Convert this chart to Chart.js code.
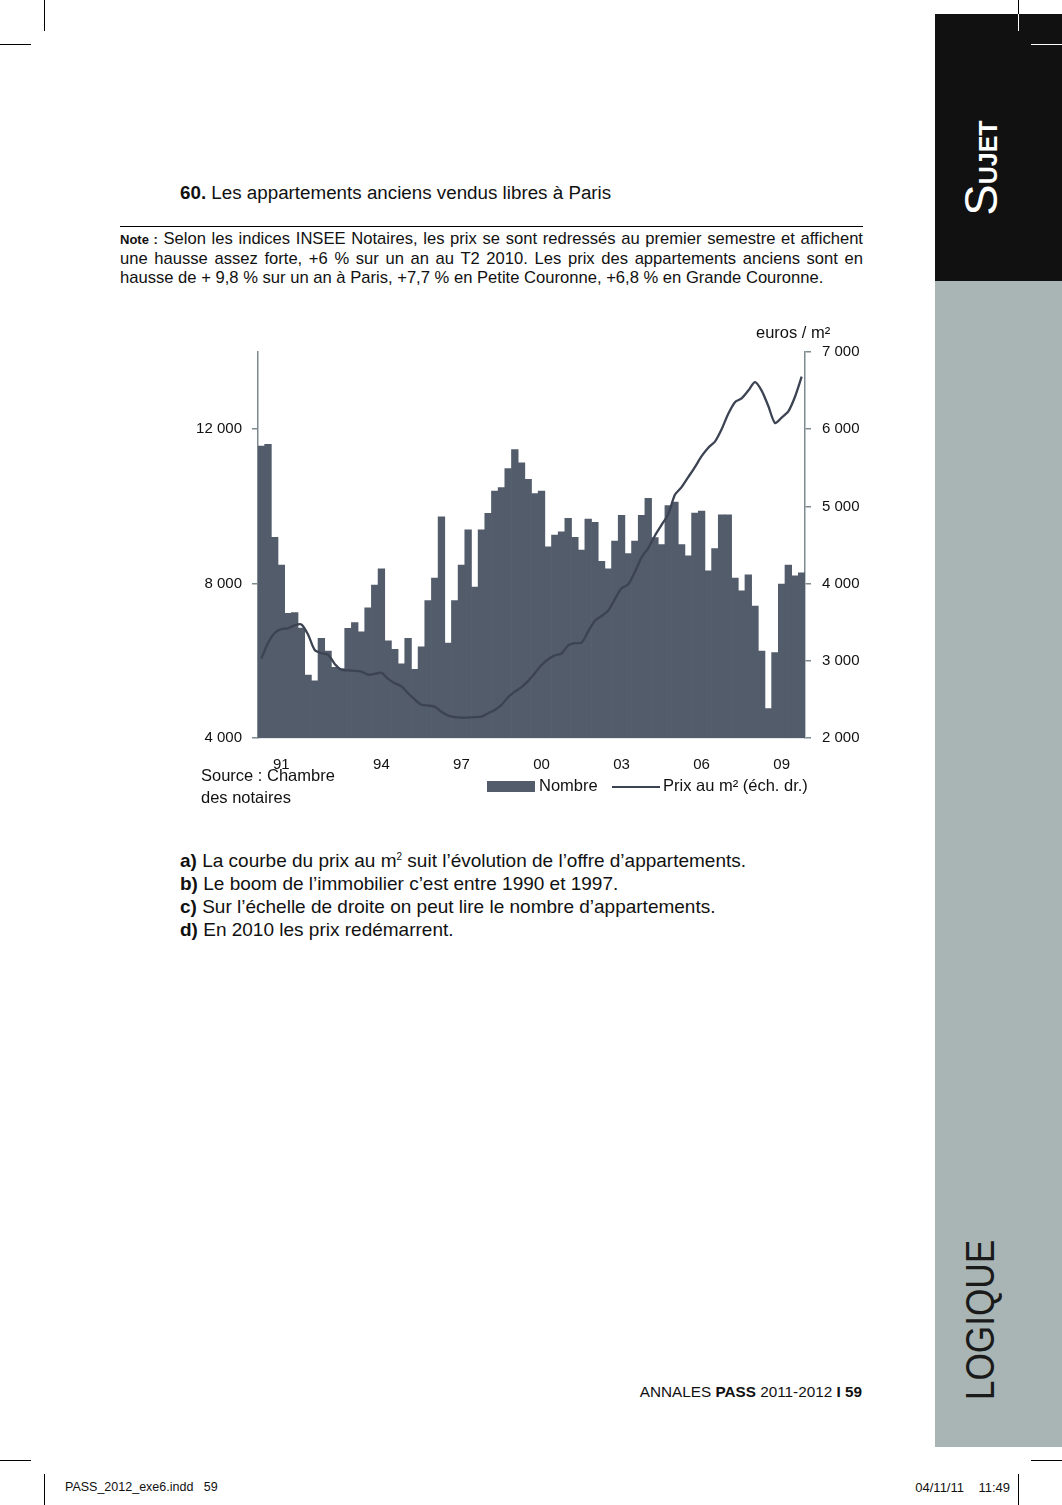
<!DOCTYPE html>
<html lang="fr">
<head>
<meta charset="utf-8">
<title>Les appartements anciens vendus libres à Paris</title>
<script src="https://cdn.jsdelivr.net/npm/chart.js@4.4.1/dist/chart.umd.min.js"></script>
<style>
  html, body { margin: 0; padding: 0; background: #fff; }
  body { width: 1062px; height: 1505px; position: relative; overflow: hidden;
         font-family: "Liberation Sans", Arial, Helvetica, sans-serif; color: #111; }
  .abs { position: absolute; white-space: nowrap; }
  .mark { position: absolute; background: #000; }
  .note { position: absolute; left: 120px; top: 229px; width: 743px; font-size: 16.6px; }
  .note div { height: 19.6px; line-height: 19.6px; white-space: nowrap; }
  .note .j { text-align: justify; text-align-last: justify; }
  .quest { position: absolute; left: 180px; top: 849px; font-size: 19px; }
  .quest div { height: 23px; line-height: 23px; white-space: nowrap; }
  .exp { font-size: 10px; position: relative; top: -7px; line-height: 0; }
  .chartfont { font-size: 16.5px; color: #111; }
</style>
</head>
<body>

<!-- traits de coupe -->
<div class="mark" style="left:44px;top:0;width:1px;height:31px"></div>
<div class="mark" style="left:0;top:44px;width:31px;height:1px"></div>
<div class="mark" style="left:0;top:1460px;width:31px;height:1px"></div>
<div class="mark" style="left:44px;top:1474px;width:1px;height:31px"></div>
<div class="mark" style="left:1031px;top:1460px;width:31px;height:1px"></div>
<div class="mark" style="left:1018px;top:1474px;width:1px;height:31px"></div>

<!-- bandeau droit -->
<div style="position:absolute;left:935px;top:281px;width:127px;height:1166px;background:#a9b5b4"></div>
<div style="position:absolute;left:935px;top:14px;width:127px;height:267px;background:#111"></div>
<div class="mark" style="left:1018px;top:0;width:1px;height:14px"></div>
<div class="mark" style="left:1018px;top:14px;width:1px;height:17px;background:#fff"></div>
<div class="mark" style="left:1031px;top:44px;width:31px;height:1px;background:#fff"></div>

<div class="abs" style="left:980px;top:168px;transform:translate(-50%,-50%) rotate(-90deg);color:#fff;line-height:1">
  <span style="font-size:47px">S</span><span style="font-size:25px;font-weight:bold">UJET</span>
</div>
<div class="abs" style="left:980px;top:1320px;transform:translate(-50%,-50%) rotate(-90deg) scaleX(0.88);color:#1a1a1a;font-size:40px;line-height:1">LOGIQUE</div>

<!-- titre et note -->
<div class="abs" style="left:180px;top:182px;font-size:18.8px;line-height:22px"><b>60.</b> Les appartements anciens vendus libres à Paris</div>
<div class="mark" style="left:120px;top:226px;width:743px;height:1px"></div>
<div class="note">
  <div class="j"><b style="font-size:13px">Note :</b> Selon les indices INSEE Notaires, les prix se sont redressés au premier semestre et affichent</div>
  <div class="j">une hausse assez forte, +6 % sur un an au T2 2010. Les prix des appartements anciens sont en</div>
  <div>hausse de + 9,8 % sur un an à Paris, +7,7 % en Petite Couronne, +6,8 % en Grande Couronne.</div>
</div>

<!-- graphique -->
<div style="position:absolute;left:180px;top:330px;width:690px;height:460px">
  <canvas id="graph"></canvas>
</div>
<div class="abs chartfont" style="left:756px;top:323px">euros / m²</div>
<div class="abs chartfont" style="left:201px;top:764px;line-height:22px">Source : Chambre<br>des notaires</div>
<div style="position:absolute;left:487px;top:781px;width:48px;height:11px;background:#535c6b"></div>
<div class="abs chartfont" style="left:539px;top:776px">Nombre</div>
<div style="position:absolute;left:612px;top:786px;width:48px;height:2px;background:#3c4352"></div>
<div class="abs chartfont" style="left:663px;top:776px">Prix au m² (éch. dr.)</div>

<!-- questions -->
<div class="quest">
  <div><b>a)</b> La courbe du prix au m<span class="exp">2</span> suit l’évolution de l’offre d’appartements.</div>
  <div><b>b)</b> Le boom de l’immobilier c’est entre 1990 et 1997.</div>
  <div><b>c)</b> Sur l’échelle de droite on peut lire le nombre d’appartements.</div>
  <div><b>d)</b> En 2010 les prix redémarrent.</div>
</div>

<!-- pied de page -->
<div class="abs" style="right:200px;top:1383px;font-size:15.3px">ANNALES <b>PASS</b> 2011-2012 <b>I 59</b></div>
<div class="abs" style="left:65px;top:1480px;font-size:12.5px">PASS_2012_exe6.indd&nbsp;&nbsp;&nbsp;59</div>
<div class="abs" style="right:52px;top:1480px;font-size:13px">04/11/11&nbsp;&nbsp;&nbsp;&nbsp;11:49</div>

<script>
// trimestres 1990 T1 -> 2010 T2
const years = [1990, 1991, 1992, 1993, 1994, 1995, 1996, 1997, 1998, 1999, 2000,
               2001, 2002, 2003, 2004, 2005, 2006, 2007, 2008, 2009, 2010];
const quarters = [];
years.forEach(y => { [1, 2, 3, 4].forEach(q => quarters.push(y + 'T' + q)); });
quarters.splice(82);

// nombre de ventes (échelle de gauche)
const nombre = [
  11560, 11610, 9200, 8480, 7230, 7250, 6850, 5630, 5480, 6580,
  6250, 5830, 5800, 6840, 6990, 6750, 7370, 7960, 8380, 6520,
  6300, 5920, 6580, 5780, 6360, 7560, 8140, 9730, 6460, 7560,
  8480, 9390, 7910, 9390, 9820, 10400, 10490, 10980, 11470, 11130,
  10700, 10330, 10400, 8950, 9260, 9340, 9690, 9200, 8870, 9670,
  9590, 8580, 8380, 9100, 9770, 8780, 9100, 9770, 10210, 9190,
  9010, 10020, 10110, 9010, 8720, 9830, 9880, 8330, 8910, 9780,
  9780, 8140, 7810, 8230, 7420, 6250, 4760, 6210, 7990, 8480,
  8200, 8280
];

// prix au m2 en euros (échelle de droite)
const prixM2 = [
  3030, 3230, 3360, 3410, 3420, 3460, 3470, 3340, 3140, 3100,
  3080, 2960, 2885, 2875, 2870, 2860, 2820, 2830, 2846, 2765,
  2710, 2670, 2580, 2500, 2430, 2420, 2405, 2340, 2290, 2270,
  2263, 2265, 2270, 2276, 2320, 2363, 2430, 2530, 2600, 2660,
  2740, 2840, 2945, 3020, 3070, 3095, 3200, 3228, 3234, 3380,
  3520, 3580, 3650, 3800, 3940, 3990, 4150, 4340, 4460, 4620,
  4760, 4900, 5150, 5250, 5380, 5510, 5650, 5760, 5840, 6000,
  6200, 6350, 6400, 6500, 6610, 6500, 6300, 6080, 6150, 6230,
  6420, 6680
];

const leftTicks = [4000, 8000, 12000];
const rightTicks = [2000, 3000, 4000, 5000, 6000, 7000];
const xTickQuarters = ['1990T4', '1994T3', '1997T3', '2000T3', '2003T3', '2006T3', '2009T3'];
const xTickLabels = ['91', '94', '97', '00', '03', '06', '09'];

const barColor = '#535c6b';
const lineColor = '#3c4352';
const axisColor = '#7d8a90';
const font = { family: '"Liberation Sans", Arial, sans-serif', size: 15 };

const milliers = v => String(v).replace(/\B(?=(\d{3})+$)/g, ' ');

const data = {
  labels: quarters,
  datasets: [
    {
      type: 'line',
      label: 'Prix au m² (éch. dr.)',
      data: prixM2,
      yAxisID: 'yPrix',
      borderColor: lineColor,
      borderWidth: 2.3,
      pointRadius: 0,
      tension: 0.25,
      order: 0
    },
    {
      type: 'bar',
      label: 'Nombre',
      data: nombre,
      yAxisID: 'yNombre',
      backgroundColor: barColor,
      borderWidth: 0,
      barPercentage: 1.0,
      categoryPercentage: 1.0,
      order: 1
    }
  ]
};

const config = {
  type: 'bar',
  data: data,
  options: {
    responsive: true,
    maintainAspectRatio: false,
    animation: false,
    layout: { padding: { top: 22, left: 0, right: 0, bottom: 0 } },
    plugins: { legend: { display: false }, tooltip: { enabled: false } },
    scales: {
      x: {
        grid: { display: false, drawTicks: false },
        border: { display: true, color: '#c9d0d3', width: 1.5 },
        afterFit: s => { s.height = 52; },
        ticks: {
          autoSkip: false,
          maxRotation: 0,
          padding: 18,
          color: '#111',
          font: font,
          callback: (v, i) => {
            const k = xTickQuarters.indexOf(quarters[i]);
            return k >= 0 ? xTickLabels[k] : '';
          }
        }
      },
      yNombre: {
        position: 'left',
        min: 4000,
        max: 14000,
        afterBuildTicks: s => { s.ticks = leftTicks.map(v => ({ value: v })); },
        afterFit: s => { s.width = 78; },
        grid: { drawOnChartArea: false, drawTicks: true, tickLength: 6, color: axisColor, lineWidth: 1.5 },
        border: { color: axisColor, width: 1.5 },
        ticks: { padding: 10, color: '#111', font: font, callback: v => milliers(v) }
      },
      yPrix: {
        position: 'right',
        min: 2000,
        max: 7000,
        afterBuildTicks: s => { s.ticks = rightTicks.map(v => ({ value: v })); },
        afterFit: s => { s.width = 65; },
        grid: { drawOnChartArea: false, drawTicks: true, tickLength: 6, color: axisColor, lineWidth: 1.5 },
        border: { color: axisColor, width: 1.5 },
        ticks: { padding: 11, color: '#111', font: font, callback: v => milliers(v) }
      }
    }
  }
};

new Chart(document.getElementById('graph'), config);
</script>
</body>
</html>
